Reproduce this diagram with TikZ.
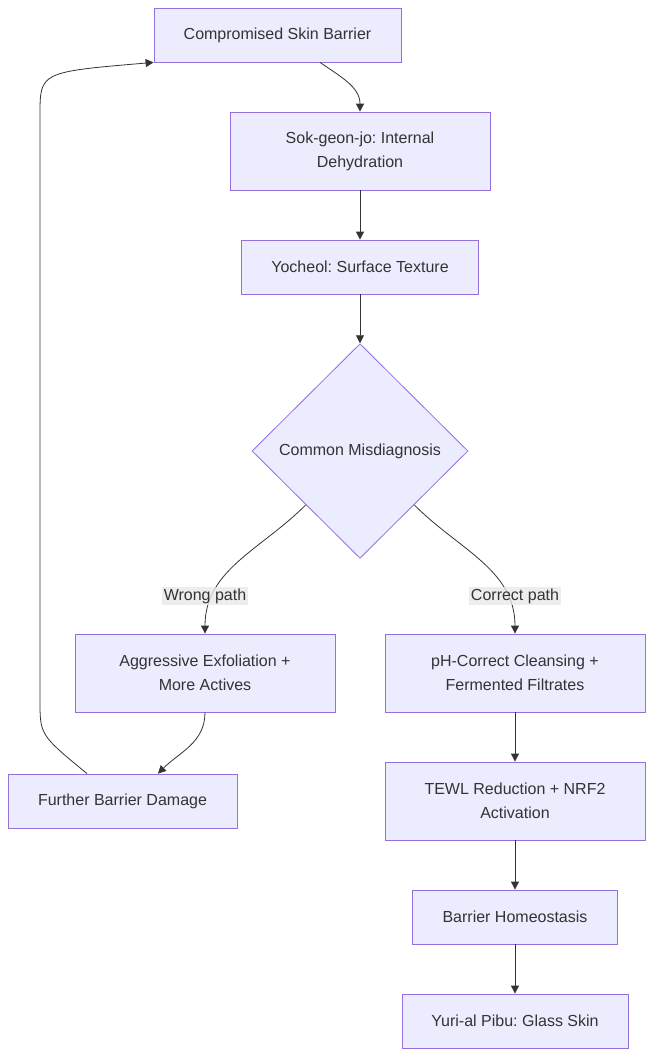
\documentclass[tikz,border=0pt]{standalone}
\usepackage{fontspec}
\setmainfont{Liberation Sans}
\usepackage{xcolor}
\usepackage{tikz}
\usetikzlibrary{arrows.meta,positioning,shapes.geometric}
\frenchspacing

\definecolor{boxfill}{HTML}{ECECFF}
\definecolor{boxline}{HTML}{9370DB}
\definecolor{inktext}{HTML}{333333}
\definecolor{lblfill}{HTML}{E8E8E8}

\begin{document}
\begin{tikzpicture}[x=0.75pt, y=-0.75pt, >={Triangle[length=6pt,width=6pt]},
  box/.style={draw=boxline, fill=boxfill, line width=0.6pt, text=inktext,
    inner sep=0pt, align=center, font=\fontsize{12}{18}\selectfont,
    minimum height=40.5pt},
  tall/.style={box, minimum height=58.5pt, minimum width=195pt},
  decision/.style={box, diamond, aspect=1, minimum width=162pt, minimum height=161pt},
  flow/.style={->, draw=inktext, line width=0.6pt},
  lbl/.style={fill=lblfill, fill opacity=0.8, text opacity=1, text=inktext,
    inner sep=1.5pt, font=\fontsize{12}{14}\selectfont}]
  \useasboundingbox (0,0) rectangle (653,1056);

  % main column
  \node[box, minimum width=185.25pt] (cmp) at (277.5,35) {Compromised Skin Barrier};
  \node[tall] (sok) at (360,151) {Sok-geon-jo: Internal\\Dehydration};
  \node[box, minimum width=177.75pt] (yoc) at (360,267) {Yocheol: Surface Texture};
  \node[decision] (mis) at (360,451) {Common Misdiagnosis};

  % wrong branch
  \node[tall] (exf) at (205,673) {Aggressive Exfoliation +\\More Actives};
  \node[box, minimum width=171.75pt] (dmg) at (122.5,801) {Further Barrier Damage};

  % correct branch
  \node[tall] (phc) at (515,673) {pH-Correct Cleansing +\\Fermented Filtrates};
  \node[tall] (tewl) at (515,801) {TEWL Reduction + NRF2\\Activation};
  \node[box, minimum width=153.75pt] (hom) at (515,917) {Barrier Homeostasis};
  \node[box, minimum width=169.5pt] (glass) at (515,1021) {Yuri-al Pibu: Glass Skin};

  \coordinate (lp1) at (40,700);
  \coordinate (lp2) at (40,115);

  \draw[flow] ([xshift=31.9pt]cmp.south) to[out=-35, in=90] (sok.north);
  \draw[flow] (sok) -- (yoc);
  \draw[flow] (yoc) -- (mis);
  \draw[flow] (mis.south west) to[out=-135, in=90] (exf.north);
  \draw[flow] (mis.south east) to[out=-45, in=90] (phc.north);
  \node[lbl] (wrong) at (205,596) {Wrong path};
  \node[lbl] (right) at (515,596) {Correct path};
  \draw[flow] (exf.south) to[out=-90, in=45] ([xshift=26.6pt]dmg.north);
  \draw[flow] ([xshift=-26.6pt]dmg.north) .. controls (40,735) .. (lp1)
    -- (lp2) .. controls (40,72) .. (cmp.south west);
  \draw[flow] (phc) -- (tewl);
  \draw[flow] (tewl) -- (hom);
  \draw[flow] (hom) -- (glass);
\end{tikzpicture}
\end{document}
